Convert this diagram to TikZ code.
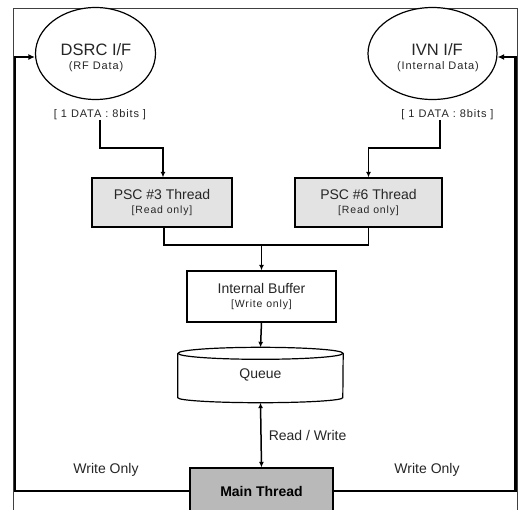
\documentclass[tikz,border=0pt]{standalone}
\usepackage{fontspec}
\setmainfont{Liberation Sans}
\newfontfamily\smallsp[LetterSpace=8]{Liberation Sans}
\usetikzlibrary{arrows.meta,shapes.geometric}
\begin{document}
\begin{tikzpicture}[x=1pt,y=-1pt,
  txt/.style={font=\fontsize{14}{14}\selectfont, text=black!85, inner sep=0pt},
  big/.style={font=\fontsize{16.5}{16.5}\selectfont, text=black!85, inner sep=0pt, anchor=base},
  lbl/.style={font=\smallsp\fontsize{11}{12}\selectfont, text=black!85, inner sep=0pt},
  box/.style={draw, line width=1.3pt, rectangle, inner sep=0pt, align=center, text=black!85},
  ell/.style={ellipse, draw, line width=1.2pt, inner sep=0pt, fill=white},
  conn/.style={line width=1.5pt, -{Latex[length=5.5pt,width=5pt]}},
  plainline/.style={line width=1.5pt},
  fb/.style={line width=2.8pt, -{Latex[length=6.5pt,width=6pt]}},
]
\useasboundingbox (0,0) rectangle (521,509);
\fill[white] (0,0) rectangle (521,509);
\draw[line width=0.8pt, black!75] (13,8) rectangle (517,530);

% interfaces
\node[ell, minimum width=120pt, minimum height=92pt] (dsrc) at (95.5,53.5) {};
\node[big] (dsrct) at (96,55) {DSRC I/F};
\node[lbl, anchor=base] (dsrcs) at (96,69) {(RF Data)};
\node[ell, minimum width=129pt, minimum height=92pt] (ivn) at (432.5,53.5) {};
\node[big] (ivnt) at (437,55) {IVN I/F};
\node[lbl, anchor=base] (ivns) at (438,69) {(Internal Data)};

\node[lbl, anchor=base] (dsrcl) at (100,117.5) {[ 1 DATA : 8bits ]};
\node[lbl, anchor=base] (ivnl) at (447.5,117.5) {[ 1 DATA : 8bits ]};

% threads
\node[box, fill=gray!22, minimum width=140pt, minimum height=49pt] (psc3) at (162,202.5)
  {\fontsize{14}{14}\selectfont PSC \#3 Thread\\[2pt]\smallsp\fontsize{10.5}{11}\selectfont [Read only]};
\node[box, fill=gray!22, minimum width=147pt, minimum height=49pt] (psc6) at (368.5,202.5)
  {\fontsize{14}{14}\selectfont PSC \#6 Thread\\[2pt]\smallsp\fontsize{10.5}{11}\selectfont [Read only]};

\node[box, fill=white, minimum width=149pt, minimum height=51pt] (buffer) at (261.5,296.5)
  {\fontsize{14}{14}\selectfont Internal Buffer\\[2pt]\smallsp\fontsize{10.5}{11}\selectfont [Write only]};

% queue cylinder
\node[minimum width=165pt, minimum height=55pt, inner sep=0pt, text=black!85,
  font=\fontsize{14}{14}\selectfont] (queue) at (260.5,375) {Queue};
\draw[line width=1.2pt] ([yshift=-6pt]queue.north west) -- ([yshift=5pt]queue.south west)
  arc[start angle=180, end angle=360, x radius=82.5pt, y radius=5pt]
  -- ([yshift=-6pt]queue.north east);
\draw[line width=1.2pt] ([yshift=-6pt]queue.north) ellipse [x radius=82.5pt, y radius=6pt];

\node[box, fill=gray!55, minimum width=143pt, minimum height=46pt,
  font=\bfseries\fontsize{14}{14}\selectfont, text=black] (main) at (261.5,491) {Main Thread};

% connectors
\coordinate (k1) at (163,148);
\coordinate (k2) at (368.5,148);
\coordinate (j) at (261.5,245);
\draw[conn] (dsrcl.south) |- (k1) -- (k1 |- psc3.north);
\draw[conn] ([xshift=-7.5pt]ivnl.south) |- (k2) -- (psc6.north);
\draw[plainline] ([xshift=2pt]psc3.south) |- (j);
\draw[plainline] (psc6.south) |- (j);
\draw[conn] (j) -- (buffer.north);
\draw[conn] (buffer.south) -- (queue.north);
\draw[line width=1.5pt, {Latex[length=5.5pt,width=5pt]}-{Latex[length=5.5pt,width=5pt]}]
  (queue.south) -- node[txt, right=7pt] (rw) {Read / Write} (main.north);

% feedback
\coordinate (cl) at (15,57);
\coordinate (cr) at (515.5,57);
\draw[fb] (main.west) -| (cl) -- (cl -| dsrc.west);
\draw[fb] (main.east) -| (cr) -- (cr -| ivn.east);

\node[txt] (wol) at (106,470) {Write Only};
\node[txt] (wor) at (427,470) {Write Only};
\end{tikzpicture}
\end{document}
